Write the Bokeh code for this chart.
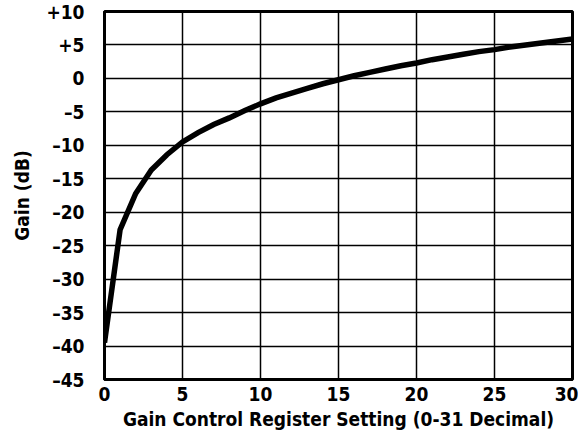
from bokeh.plotting import figure
from bokeh.models import FixedTicker, ColumnDataSource, Range1d
from bokeh.embed import file_html
from bokeh.resources import INLINE

setting = list(range(0, 31))
gain_db = [-39.5, -22.6, -17.2, -13.7, -11.4, -9.5, -8.1, -6.9, -5.9, -4.8,
           -3.8, -2.9, -2.2, -1.5, -0.8, -0.2, 0.4, 0.9, 1.4, 1.9,
           2.3, 2.8, 3.2, 3.6, 4.0, 4.3, 4.7, 5.0, 5.3, 5.6, 5.9]

x_ticks = [0, 5, 10, 15, 20, 25, 30]
y_ticks = [-45, -40, -35, -30, -25, -20, -15, -10, -5, 0, 5, 10]
y_tick_labels = {-45: "\u201345", -40: "\u201340", -35: "\u201335", -30: "\u201330",
                 -25: "\u201325", -20: "\u201320", -15: "\u201315", -10: "\u201310",
                 -5: "\u20135", 0: "0", 5: "+5", 10: "+10"}

FONT = "DejaVu Sans Condensed"

p = figure(output_backend="svg", toolbar_location=None,
           frame_width=468, frame_height=368,
           min_border_left=104, min_border_top=11, min_border_right=6, min_border_bottom=55,
           x_range=Range1d(0, 30), y_range=Range1d(-45, 10))

src = ColumnDataSource(dict(x=setting, y=gain_db))
p.line("x", "y", source=src, line_color="black", line_width=5.5, line_join="miter")

p.outline_line_color = "black"
p.outline_line_width = 3
p.outline_line_alpha = 1

for ax in (p.xaxis[0], p.yaxis[0]):
    ax.major_tick_line_color = None
    ax.minor_tick_line_color = None
    ax.axis_line_color = "black"
    ax.axis_line_width = 3
    ax.major_label_text_font = FONT
    ax.major_label_text_font_style = "bold"
    ax.major_label_text_font_size = "19px"
    ax.major_label_text_color = "black"
    ax.axis_label_text_font = FONT
    ax.axis_label_text_font_style = "bold"
    ax.axis_label_text_color = "black"

p.xaxis.ticker = FixedTicker(ticks=x_ticks)
p.yaxis.ticker = FixedTicker(ticks=y_ticks)
p.yaxis.major_label_overrides = y_tick_labels
p.xaxis.major_label_standoff = 1
p.yaxis.major_label_standoff = 14
p.xaxis.axis_label = "Gain Control Register Setting (0-31 Decimal)"
p.xaxis.axis_label_text_font_size = "19px"
p.xaxis.axis_label_standoff = 4
p.yaxis.axis_label = "Gain (dB)"
p.yaxis.axis_label_text_font_size = "19px"
p.yaxis.axis_label_standoff = 10

p.xgrid.ticker = FixedTicker(ticks=x_ticks)
p.ygrid.ticker = FixedTicker(ticks=y_ticks)
for g in (p.xgrid[0], p.ygrid[0]):
    g.grid_line_color = "black"
    g.grid_line_width = 1.5
    g.grid_line_alpha = 1

open("out.html", "w").write(file_html(p, INLINE))
